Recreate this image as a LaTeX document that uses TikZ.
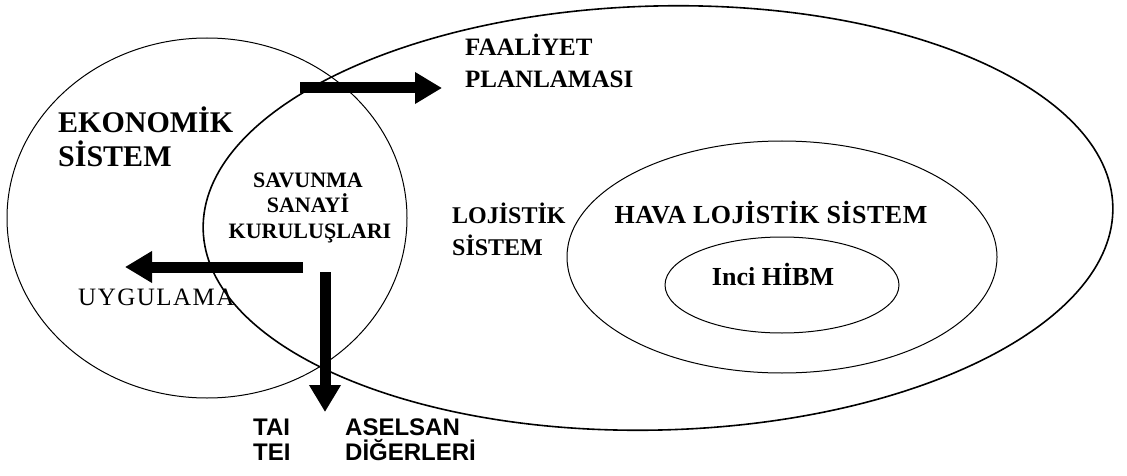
\documentclass[tikz,border=0pt]{standalone}
\usepackage{fontspec}
\setmainfont{Liberation Serif}
\newfontfamily\arialfont{Liberation Sans}
\usetikzlibrary{positioning,shapes.geometric,arrows.meta}

\begin{document}
\begin{tikzpicture}[x=1pt,y=-1pt,
    set/.style={draw,ellipse,inner sep=0pt,outer sep=0pt,line width=1pt},
    lbl/.style={inner sep=0pt,anchor=base west,font=\bfseries\fontsize{#1}{#1}\selectfont},
    lbl/.default=24,
    firm/.style={inner sep=0pt,anchor=base west,font=\arialfont\bfseries\fontsize{24}{24}\selectfont},
    flow/.style={line width=11pt,-{Triangle[width=30pt,length=27pt]}}]
  \useasboundingbox (0,0) rectangle (1127,476);
  % the sets
  \node[set,line width=1.6pt,minimum width=910pt,minimum height=424pt,rotate=1.5] (lojistik) at (658,218) {};
  \node[set,minimum width=400pt,minimum height=360pt] (ekonomik) at (207,218) {};
  \node[set,minimum width=430pt,minimum height=232pt] (hava) at (782,257) {};
  \node[set,minimum width=234pt,minimum height=96pt] (inci) at (782,285) {};
  % labels
  \node[lbl=30] (eko1) at (58,133) {EKONOMİK};
  \node[lbl=30] (eko2) at (58,167) {SİSTEM};
  \node[lbl=22,anchor=base] (ssk1) at (308,187) {SAVUNMA};
  \node[lbl=22,anchor=base] (ssk2) at (308,212) {SANAYİ};
  \node[lbl=22,anchor=base] (ssk3) at (310,238) {KURULUŞLARI};
  \node[lbl=25] (plan1) at (465,56) {FAALİYET};
  \node[lbl=25] (plan2) at (465,88) {PLANLAMASI};
  \node[lbl=24] (loj1) at (452,223) {LOJİSTİK};
  \node[lbl=24] (loj2) at (452,255) {SİSTEM};
  \node[lbl,anchor=base,font=\bfseries\fontsize{26}{26}\selectfont\addfontfeature{LetterSpace=2}] (hls) at (771,223) {HAVA LOJİSTİK SİSTEM};
  \node[lbl=26,anchor=base] (hibm) at (773,285) {Inci HİBM};
  \node[lbl,font=\fontsize{25}{25}\selectfont\addfontfeature{LetterSpace=6}] (uyg) at (78,305) {UYGULAMA};
  \node[firm] (tai) at (253,435) {TAI};
  \node[firm] (tei) at (253,460) {TEI};
  \node[firm] (aselsan) at (345,435) {ASELSAN};
  \node[firm] (diger) at (345,460) {DİĞERLERİ};
  % arrows
  \coordinate (planS) at (300,88); \coordinate (planE) at (442,88);
  \coordinate (uygS) at (303,267); \coordinate (uygE) at (125,267);
  \coordinate (firmS) at (325,272); \coordinate (firmE) at (325,412);
  \draw[flow] (planS) -- (planE);
  \draw[flow] (uygS) -- (uygE);
  \draw[flow] (firmS) -- (firmE);
\end{tikzpicture}
\end{document}
